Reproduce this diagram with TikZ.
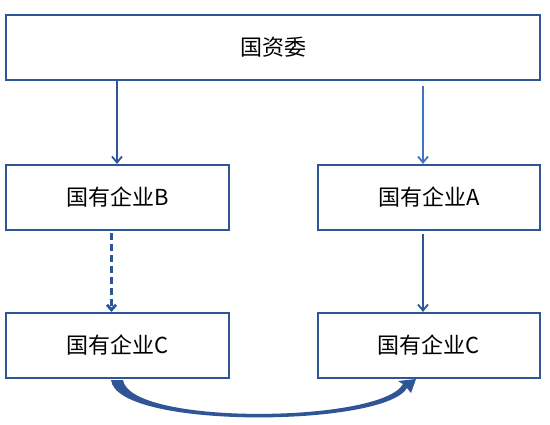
\documentclass[tikz,border=0pt]{standalone}
\usepackage{fontspec}
\setmainfont{Noto Sans CJK SC}
\usetikzlibrary{arrows.meta}
\definecolor{boxblue}{HTML}{2F5597}
\definecolor{lightblue}{HTML}{4472C4}
\tikzset{
  box/.style={draw=boxblue, line width=2.2pt, fill=white, minimum height=65pt, inner sep=0pt, font=\fontsize{22pt}{26pt}\selectfont},
  arr/.style={draw=boxblue, line width=1.8pt, -{Straight Barb[length=6pt,width=10pt]}},
}
\begin{document}
\begin{tikzpicture}[x=1pt,y=-1pt]
\useasboundingbox (0,0) rectangle (550,424);
\node[box, minimum width=534pt] (top) at (273,47.5) {国资委};
\node[box, minimum width=223pt] (B) at (117.5,197.5) {国有企业B};
\node[box, minimum width=222pt] (A) at (429,197.5) {国有企业A};
\node[box, minimum width=223pt] (C1) at (117.5,345.5) {国有企业C};
\node[box, minimum width=222pt] (C2) at (429,345.5) {国有企业C};
\draw[arr] ([xshift=-0.5pt]B.north |- top.south) -- ([xshift=-0.5pt]B.north);
\draw[arr, draw=lightblue, shorten <=5pt] ([xshift=-6pt]A.north |- top.south) -- ([xshift=-6pt]A.north);
\draw[arr, line width=2.8pt, dash pattern=on 7pt off 4pt, shorten <=2pt, -{Straight Barb[length=5pt,width=9pt]}] ([xshift=-6pt]B.south) -- ([xshift=-6pt]C1.north);
\draw[arr, shorten <=3pt] ([xshift=-6pt]A.south) -- ([xshift=-6pt]C2.north);
\fill[boxblue] (111,380) .. controls (117,430) and (385,427) .. (407,388)
  -- (411,393) -- (416,379) -- (398,381) -- (403,384)
  .. controls (382,423) and (130,426) .. (123,380) -- cycle;
\end{tikzpicture}
\end{document}
